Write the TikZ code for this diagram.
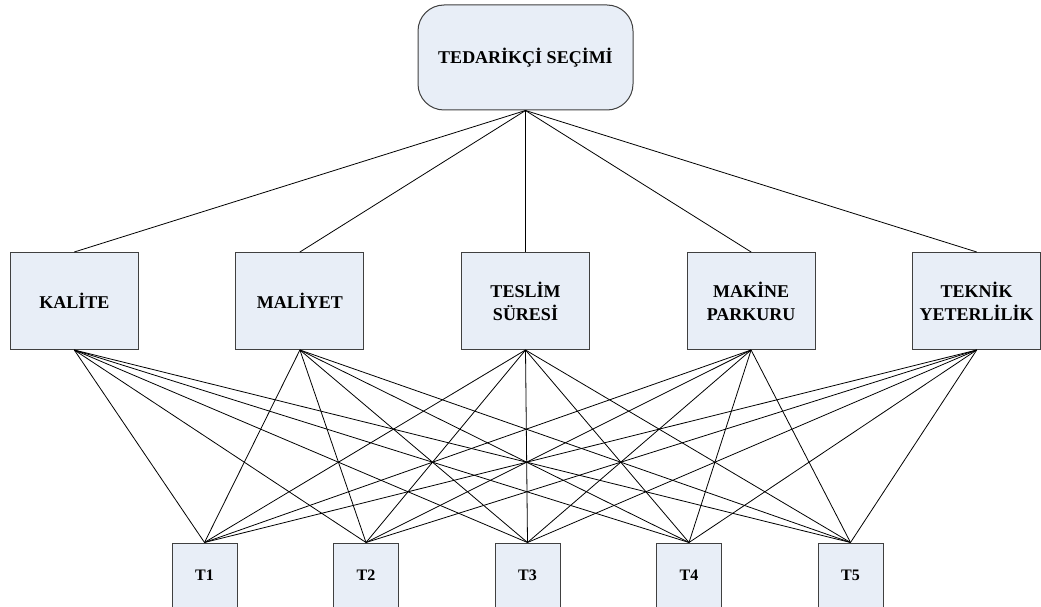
\documentclass[tikz,border=0pt]{standalone}
\usepackage{fontspec}
\setmainfont{Liberation Serif}
\usetikzlibrary{positioning}
\definecolor{boxfill}{RGB}{232,238,247}
\definecolor{boxline}{RGB}{64,64,64}
\tikzset{
    base/.style = {draw=boxline, fill=boxfill, line width=1pt, font=\bfseries, align=center, inner sep=0pt},
    goal/.style = {base, rectangle, rounded corners=26pt, minimum width=215pt, minimum height=105pt, font=\bfseries\fontsize{18}{21}\selectfont},
    crit/.style = {base, rectangle, minimum width=128pt, minimum height=97pt, font=\bfseries\fontsize{18}{23}\selectfont},
    alt/.style  = {base, rectangle, minimum width=65pt, minimum height=64pt, font=\bfseries\fontsize{16}{19}\selectfont}}

\begin{document}
\begin{tikzpicture}[x=1pt, y=-1pt, node distance = 243.5pt and 225.6pt, on grid,
    link/.style = {draw=black, line width=0.8pt}
    ]
    \useasboundingbox (0,0) rectangle (1041,607);
    \node[goal] (G) at (525.5,57.5) {TEDARİKÇİ SEÇİMİ};
    % criteria
    \node[crit] (C3) [below = of G] {TESLİM\\SÜRESİ};
    \node[crit] (C2) [left = of C3] {MALİYET};
    \node[crit] (C1) [left = of C2] {KALİTE};
    \node[crit] (C4) [right = of C3] {MAKİNE\\PARKURU};
    \node[crit] (C5) [right = of C4] {TEKNİK\\YETERLİLİK};
    % alternatives
    \node[alt] (T3) [below = 274pt of C3, xshift=2pt] {T3};
    \node[alt] (T2) [left = 161.5pt of T3] {T2};
    \node[alt] (T1) [left = 161.5pt of T2] {T1};
    \node[alt] (T4) [right = 161.5pt of T3] {T4};
    \node[alt] (T5) [right = 161.5pt of T4] {T5};
    \foreach \c in {1,...,5}
        \draw[link] (G.south) -- (C\c.north);
    \foreach \c in {1,...,5}
        \foreach \t in {1,...,5}
            \draw[link] (C\c.south) -- (T\t.north);
\end{tikzpicture}
\end{document}
